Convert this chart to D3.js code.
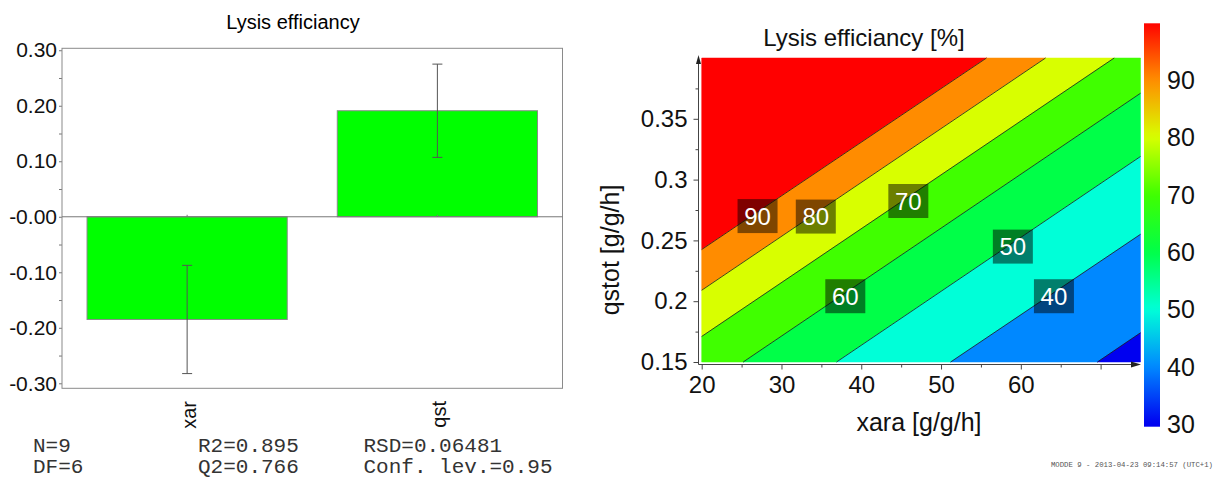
<!DOCTYPE html>
<html>
<head>
<meta charset="utf-8">
<script src="https://cdn.jsdelivr.net/npm/d3@7"></script>
<style>
  html, body { margin: 0; padding: 0; background: #fff; }
  svg { display: block; font-family: Arial, "Liberation Sans", sans-serif; }
  .mono { font-family: "Liberation Mono", "Courier New", monospace; }
</style>
</head>
<body>
<svg id="chart" width="1215" height="478"></svg>
<script>
// ---- Coefficient plot (scaled & centred effects) ----
const effectTerms = ["xar", "qst"];
const effectValues = [-0.185, 0.191];
const effectErrors = [0.0975, 0.084];
const effectTicks = [0.30, 0.20, 0.10, 0.00, -0.10, -0.20, -0.30];
const effectMinorTicks = [0.25, 0.15, 0.05, -0.05, -0.15, -0.25];
const statsCol1 = ["N=9", "DF=6"];
const statsCol2 = ["R2=0.895", "Q2=0.766"];
const statsCol3 = ["RSD=0.06481", "Conf. lev.=0.95"];

// ---- Response contour plot ----
// each contour is a straight line across the plotted window: [xara, qstot] start and end
const contourLevels = [90, 80, 70, 60, 50, 40, 30];
const contourFrom = [[20, 0.2425], [20, 0.209], [20, 0.171], [25.2, 0.15], [36.9, 0.15], [51.2, 0.15], [69.6, 0.15]];
const contourTo   = [[55.7, 0.40], [63.1, 0.40], [71.7, 0.40], [75, 0.371], [75, 0.319], [75, 0.255], [75, 0.174]];
const labelLevels = [90, 80, 70, 60, 50, 40];
const labelXara   = [27.0, 34.3, 45.9, 38.0, 59.0, 64.15];
const labelQstot  = [0.270, 0.2696, 0.2824, 0.2041, 0.2449, 0.2041];
const xaraTicks = [20, 30, 40, 50, 60, 70];
const xaraMinorTicks = [25, 35, 45, 55, 65];
const qstotTicks = [0.15, 0.2, 0.25, 0.3, 0.35];
const qstotMinorTicks = [0.175, 0.225, 0.275, 0.325, 0.375];
const colorbarTicks = [30, 40, 50, 60, 70, 80, 90];
const colourStops = [30, 40, 50, 60, 70, 80, 90, 100];
const colourHex = ["#0000f0", "#0088ff", "#00ffd8", "#00ff48", "#40ff00", "#d8ff00", "#ff8c00", "#ff0000"];
const stampText = "MODDE 9 - 2013-04-23 09:14:57 (UTC+1)";

const svg = d3.select("#chart");

// ================= left: coefficient bars =================
const yL = d3.scaleLinear().domain([-0.309, 0.3035]).range([388.3, 48.3]);
const xL = d3.scaleBand().domain(effectTerms).range([62, 562.5]).paddingInner(0.2).paddingOuter(0.1);
const left = svg.append("g");

left.append("text")
  .attr("x", 293).attr("y", 29)
  .attr("text-anchor", "middle").attr("font-size", 20)
  .text("Lysis efficiancy");

const fmtEffect = d => (Math.abs(d) < 1e-9 ? "-0.00" : d.toFixed(2));
const yAxisL = left.append("g").attr("transform", "translate(62,0)")
  .call(d3.axisLeft(yL).tickValues(effectTicks).tickSize(3).tickPadding(2).tickFormat(fmtEffect));
yAxisL.select(".domain").remove();
yAxisL.attr("font-family", null);
yAxisL.selectAll("text").attr("font-size", 21).attr("fill", "#111");
yAxisL.selectAll("line").attr("stroke", "#777");
const yMinorL = left.append("g").attr("transform", "translate(62,0)")
  .call(d3.axisLeft(yL).tickValues(effectMinorTicks).tickSize(3).tickFormat(""));
yMinorL.select(".domain").remove();
yMinorL.selectAll("line").attr("stroke", "#777");

// bars
left.selectAll("rect.bar").data(effectTerms).join("rect")
  .attr("class", "bar")
  .attr("x", d => xL(d))
  .attr("width", xL.bandwidth())
  .attr("y", (d, i) => Math.min(yL(effectValues[i]), yL(0)))
  .attr("height", (d, i) => Math.abs(yL(effectValues[i]) - yL(0)))
  .attr("fill", "#00ff00").attr("stroke", "#8a8a8a").attr("stroke-width", 1);

// frame
left.append("rect")
  .attr("x", 62).attr("y", yL(0.3035))
  .attr("width", 562.5 - 62).attr("height", yL(-0.309) - yL(0.3035))
  .attr("fill", "none").attr("stroke", "#8a8a8a").attr("stroke-width", 1);

// zero line with category ticks
left.append("line")
  .attr("x1", 62).attr("x2", 562.5).attr("y1", yL(0)).attr("y2", yL(0))
  .attr("stroke", "#777");
left.selectAll("line.ctick").data(effectTerms).join("line")
  .attr("class", "ctick")
  .attr("x1", d => xL(d) + xL.bandwidth() / 2).attr("x2", d => xL(d) + xL.bandwidth() / 2)
  .attr("y1", yL(0) - 2).attr("y2", yL(0))
  .attr("stroke", "#777");

// confidence intervals
const eb = left.selectAll("g.err").data(effectTerms).join("g").attr("class", "err")
  .attr("stroke", "#555").attr("stroke-width", 1);
eb.append("line")
  .attr("x1", d => xL(d) + xL.bandwidth() / 2).attr("x2", d => xL(d) + xL.bandwidth() / 2)
  .attr("y1", (d, i) => yL(effectValues[i] + effectErrors[i]))
  .attr("y2", (d, i) => yL(effectValues[i] - effectErrors[i]));
[1, -1].forEach(s => {
  eb.append("line")
    .attr("x1", d => xL(d) + xL.bandwidth() / 2 - 5).attr("x2", d => xL(d) + xL.bandwidth() / 2 + 5)
    .attr("y1", (d, i) => yL(effectValues[i] + s * effectErrors[i]))
    .attr("y2", (d, i) => yL(effectValues[i] + s * effectErrors[i]));
});

// category labels, rotated
left.selectAll("text.cat").data(effectTerms).join("text")
  .attr("class", "cat")
  .attr("transform", d => `translate(${xL(d) + xL.bandwidth() / 2 + 9},401) rotate(-90)`)
  .attr("text-anchor", "end").attr("font-size", 20).attr("fill", "#111")
  .text(d => d);

// model statistics
const statCols = [statsCol1, statsCol2, statsCol3];
const statX = [33, 198, 363.5];
const statY = [451.5, 473];
statCols.forEach((col, c) => {
  col.forEach((t, r) => {
    left.append("text")
      .attr("class", "mono")
      .attr("x", statX[c]).attr("y", statY[r])
      .attr("font-size", 21).attr("fill", "#333")
      .text(t);
  });
});

// ================= right: contour plot =================
const xR = d3.scaleLinear().domain([20, 75]).range([701.7, 1140.5]);
const yR = d3.scaleLinear().domain([0.15, 0.40]).range([362, 58]);
const colour = d3.scaleLinear().domain(colourStops).range(colourHex).clamp(true);
const right = svg.append("g");

// keep the part of polygon on one side of the line P->Q (data space)
function clipHalf(poly, P, Q, keepHigh) {
  const side = R => {
    const s = (Q[0] - P[0]) * (R[1] - P[1]) - (Q[1] - P[1]) * (R[0] - P[0]);
    return keepHigh ? s : -s;
  };
  const out = [];
  for (let i = 0; i < poly.length; i++) {
    const A = poly[i], B = poly[(i + 1) % poly.length];
    const sa = side(A), sb = side(B);
    if (sa >= 0) out.push(A);
    if ((sa >= 0) !== (sb >= 0)) {
      const t = sa / (sa - sb);
      out.push([A[0] + t * (B[0] - A[0]), A[1] + t * (B[1] - A[1])]);
    }
  }
  return out;
}

const windowPoly = [[20, 0.15], [75, 0.15], [75, 0.40], [20, 0.40]];
const bands = [];
for (let k = 0; k <= contourLevels.length; k++) {
  let poly = windowPoly.slice();
  if (k > 0) poly = clipHalf(poly, contourFrom[k - 1], contourTo[k - 1], false);
  if (k < contourLevels.length) poly = clipHalf(poly, contourFrom[k], contourTo[k], true);
  const upper = k === 0 ? 100 : contourLevels[k - 1];
  bands.push({ poly, upper });
}
const toPx = p => [xR(p[0]), yR(p[1])];
right.selectAll("path.band").data(bands).join("path")
  .attr("class", "band")
  .attr("d", b => b.poly.length ? d3.line()(b.poly.map(toPx)) + "Z" : null)
  .attr("fill", b => colour(b.upper))
  .attr("stroke", b => colour(b.upper)).attr("stroke-width", 0.5);

right.selectAll("line.contour").data(contourLevels).join("line")
  .attr("class", "contour")
  .attr("x1", (d, i) => xR(contourFrom[i][0])).attr("y1", (d, i) => yR(contourFrom[i][1]))
  .attr("x2", (d, i) => xR(contourTo[i][0])).attr("y2", (d, i) => yR(contourTo[i][1]))
  .attr("stroke", "#1a1a1a").attr("stroke-width", 0.8);

// contour labels
const lab = right.selectAll("g.clabel").data(labelLevels).join("g").attr("class", "clabel")
  .attr("transform", (d, i) => `translate(${xR(labelXara[i])},${yR(labelQstot[i])})`);
lab.append("rect")
  .attr("x", -20).attr("y", -17).attr("width", 40).attr("height", 34)
  .attr("fill", "#000").attr("fill-opacity", 0.5);
lab.append("text")
  .attr("text-anchor", "middle").attr("dy", "0.36em")
  .attr("font-size", 24).attr("fill", "#fff")
  .text(d => d);

// axes
const axisCol = "#444";
const xAxisY = 364.5;
const yAxisX = 698.5;
right.append("line").attr("x1", yAxisX).attr("x2", 1136).attr("y1", xAxisY).attr("y2", xAxisY).attr("stroke", axisCol);
right.append("path").attr("d", `M1141,${xAxisY} L1131,${xAxisY - 3} L1131,${xAxisY + 3} Z`).attr("fill", "#222");
right.append("line").attr("x1", yAxisX).attr("x2", yAxisX).attr("y1", xAxisY).attr("y2", 62).attr("stroke", axisCol);
right.append("path").attr("d", `M${yAxisX},55 L${yAxisX - 2.5},64 L${yAxisX + 2.5},64 Z`).attr("fill", "#222");

const xAxisR = right.append("g").attr("transform", `translate(0,${xAxisY})`)
  .call(d3.axisBottom(xR).tickValues(xaraTicks).tickSize(5).tickSizeOuter(0).tickPadding(6)
    .tickFormat(d => (d === 70 ? "" : d)));
xAxisR.select(".domain").remove();
xAxisR.attr("font-family", null);
xAxisR.selectAll("line").attr("stroke", axisCol);
xAxisR.selectAll("text").attr("font-size", 24).attr("fill", "#111");
const xMinorR = right.append("g").attr("transform", `translate(0,${xAxisY})`)
  .call(d3.axisBottom(xR).tickValues(xaraMinorTicks).tickSize(3).tickFormat(""));
xMinorR.select(".domain").remove();
xMinorR.selectAll("line").attr("stroke", axisCol);

const yAxisR = right.append("g").attr("transform", `translate(${yAxisX},0)`)
  .call(d3.axisLeft(yR).tickValues(qstotTicks).tickSize(5).tickPadding(6).tickFormat(d => String(+d.toFixed(2))));
yAxisR.select(".domain").remove();
yAxisR.attr("font-family", null);
yAxisR.selectAll("line").attr("stroke", axisCol);
yAxisR.selectAll("text").attr("font-size", 24).attr("fill", "#111");
const yMinorR = right.append("g").attr("transform", `translate(${yAxisX},0)`)
  .call(d3.axisLeft(yR).tickValues(qstotMinorTicks).tickSize(3).tickFormat(""));
yMinorR.select(".domain").remove();
yMinorR.selectAll("line").attr("stroke", axisCol);

// titles
right.append("text").attr("x", 864).attr("y", 46).attr("text-anchor", "middle")
  .attr("font-size", 24).attr("fill", "#111").text("Lysis efficiancy [%]");
right.append("text").attr("x", 919).attr("y", 431).attr("text-anchor", "middle")
  .attr("font-size", 25).attr("fill", "#111").text("xara [g/g/h]");
right.append("text").attr("transform", "translate(619,250) rotate(-90)").attr("text-anchor", "middle")
  .attr("font-size", 25).attr("fill", "#111").text("qstot [g/g/h]");

// colour bar
const cb = d3.scaleLinear().domain([29.6, 99.8]).range([426.7, 23.3]);
const defs = svg.append("defs");
const grad = defs.append("linearGradient").attr("id", "cbGrad")
  .attr("x1", 0).attr("y1", 1).attr("x2", 0).attr("y2", 0);
d3.range(29.6, 99.81, 1).forEach(v => {
  grad.append("stop")
    .attr("offset", (v - 29.6) / (99.8 - 29.6))
    .attr("stop-color", colour(v));
});
right.append("rect")
  .attr("x", 1144).attr("y", cb(99.8)).attr("width", 16).attr("height", cb(29.6) - cb(99.8))
  .attr("fill", "url(#cbGrad)");
right.selectAll("text.cbt").data(colorbarTicks).join("text")
  .attr("class", "cbt")
  .attr("x", 1167).attr("y", d => cb(d)).attr("dy", "0.36em")
  .attr("font-size", 25).attr("fill", "#111")
  .text(d => d);

// program stamp
svg.append("text").attr("class", "mono").attr("x", 1213).attr("y", 467).attr("text-anchor", "end")
  .attr("font-size", 7.3).attr("fill", "#555")
  .text(stampText);
</script>
</body>
</html>
